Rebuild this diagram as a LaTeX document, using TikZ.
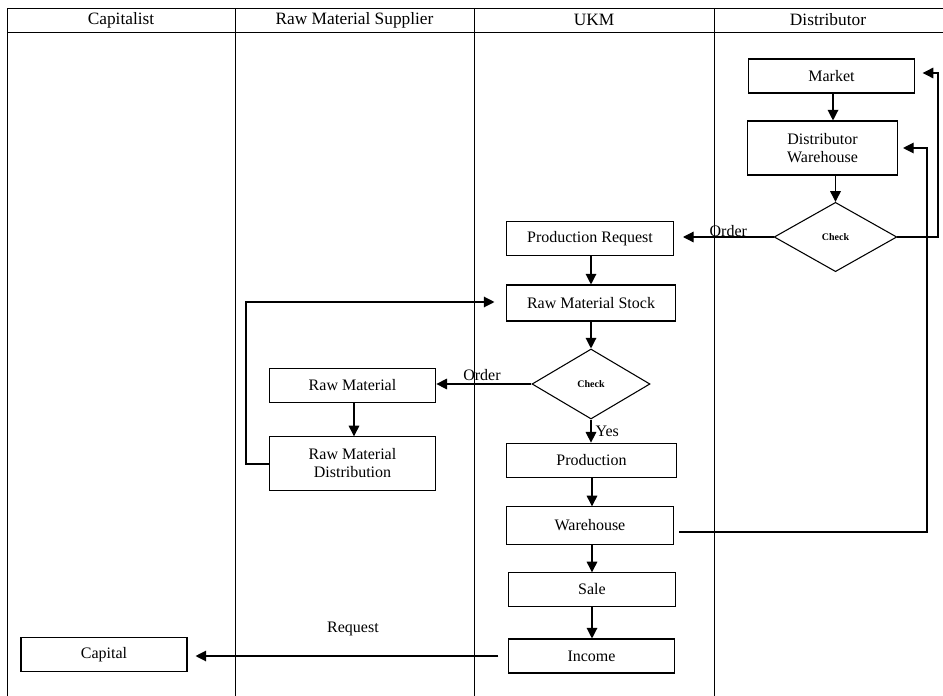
\documentclass[tikz,border=0pt]{standalone}
\usepackage{fontspec}
\setmainfont{Liberation Serif}
\usetikzlibrary{arrows.meta,shapes.geometric}

\tikzset{
  box/.style={draw, line width=.8pt, inner sep=1pt, align=center,
    font=\fontsize{12}{13.5}\selectfont},
  chk/.style={draw, line width=.8pt, diamond, inner sep=0pt,
    font=\fontsize{7.5}{8}\selectfont\bfseries},
  arr/.style={line width=.9pt, -{Triangle[length=8pt,width=8pt]}},
  lane/.style={line width=.6pt},
  lbl/.style={font=\fontsize{12}{13.5}\selectfont, inner sep=1pt},
  hd/.style={font=\fontsize{13}{14}\selectfont, inner sep=0pt}
}

\begin{document}
\begin{tikzpicture}[x=.75pt,y=-.75pt]
	\useasboundingbox (0,0) rectangle (943,696);
	% swimlanes
	\draw[lane] (7,8) -- (943,8);
	\draw[lane] (7,32.5) -- (943,32.5);
	\draw[lane] (7,8) -- (7,696);
	\draw[lane] (235,8) -- (235,696);
	\draw[lane] (474,8) -- (474,696);
	\draw[lane] (714,8) -- (714,696);
	\node[hd] (hcap) at (121,20) {Capitalist};
	\node[hd] (hsup) at (354.5,20) {Raw Material Supplier};
	\node[hd] (hukm) at (594,20) {UKM};
	\node[hd] (hdis) at (828,20) {Distributor};

	% distributor
	\node[box, minimum width=125pt, minimum height=25.5pt] (market) at (831.5,76) {Market};
	\node[box, minimum width=112pt, minimum height=40.5pt] (distwh) at (822.5,148) {Distributor\\Warehouse};
	\node[chk, minimum width=92pt, minimum height=52pt] (chkdis) at (835.5,237) {Check};

	% ukm
	\node[box, minimum width=125pt, minimum height=25pt] (prodreq) at (590,238.5) {Production Request};
	\node[box, minimum width=127pt, minimum height=27pt] (rmstock) at (591,303) {Raw Material Stock};
	\node[chk, minimum width=88.5pt, minimum height=52.5pt] (chkukm) at (591,384) {Check};
	\node[box, minimum width=128pt, minimum height=26pt] (prod) at (591.5,460.5) {Production};
	\node[box, minimum width=125pt, minimum height=28pt] (wareh) at (590,525.5) {Warehouse};
	\node[box, minimum width=125pt, minimum height=25pt] (sale) at (592,589.5) {Sale};
	\node[box, minimum width=125pt, minimum height=25.5pt] (income) at (591.5,656) {Income};

	% supplier
	\node[box, minimum width=125pt, minimum height=26pt] (rawmat) at (352.5,385.5) {Raw Material};
	\node[box, minimum width=125pt, minimum height=40pt] (rmdist) at (352.5,463.5) {Raw Material\\Distribution};

	% capitalist
	\node[box, minimum width=124.5pt, minimum height=26pt] (capital) at (104,654.5) {Capital};

	% bends
	\coordinate (b1) at (938,237);
	\coordinate (b2) at (938,73);
	\coordinate (b3) at (927,532);
	\coordinate (b4) at (927,148);
	\coordinate (b5) at (246,464);
	\coordinate (b6) at (246,302);

	% flows
	\draw[arr] (market.south -| 833,0) -- (distwh.north -| 833,0);
	\draw[arr] (distwh.south -| chkdis.north) -- (chkdis.north);
	\draw[arr] (chkdis.west) -- (chkdis.west -| 683,0) node[lbl, pos=.5, above, yshift=-1.5pt] {Order};
	\draw[arr] (chkdis.east) -- (b1) -- (b2) -- ([xshift=5.5pt]market.east |- b2);
	\draw[arr] ([xshift=4pt]wareh.east |- b3) -- (b3) -- (b4) -- ([xshift=4pt]distwh.east);
	\draw[arr] (prodreq.south -| rmstock.north) -- (rmstock.north);
	\draw[arr] (rmstock.south -| chkukm.north) -- (chkukm.north);
	\draw[arr] (chkukm.west) -- (rawmat.east |- chkukm.west) node[lbl, pos=.52, above, yshift=1pt] {Order};
	\draw[arr] (rawmat.south -| 354,0) -- (rmdist.north -| 354,0);
	\draw[arr] (rmdist.west |- b5) -- (b5) -- (b6) -- ([xshift=-8.5pt]rmstock.west |- b6);
	\draw[arr] (chkukm.south) -- (prod.north -| chkukm.south) node[lbl, pos=.5, right=2pt] {Yes};
	\draw[arr] (prod.south -| 592,0) -- (wareh.north -| 592,0);
	\draw[arr] (wareh.south -| 592,0) -- (sale.north -| 592,0);
	\draw[arr] (sale.south -| 592,0) -- (income.north -| 592,0);
	\draw[arr] ([xshift=-7pt]income.west) -- ([xshift=6pt]capital.east |- income.west) node[lbl, pos=.48, above=14pt] {Request};
\end{tikzpicture}
\end{document}
